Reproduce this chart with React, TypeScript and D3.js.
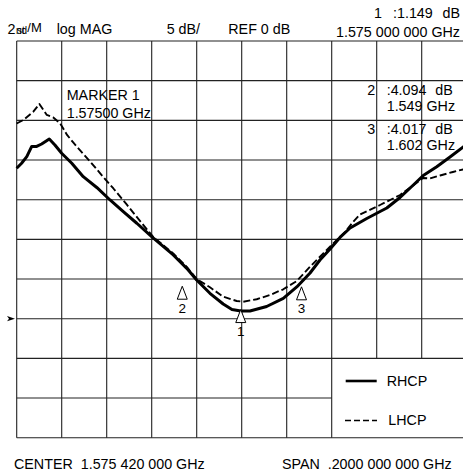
import React from "react";
import * as d3 from "d3";

// Analyzer settings
const centerGHz = 1.57542;
const spanGHz = 0.2;
const refDb = 0;
const dbPerDiv = 5;
const refDivFromTop = 7;
const divisions = 10;

// RHCP trace (solid)
const rhcpFreq = [
  1.4754, 1.4776, 1.4799, 1.4821, 1.4843, 1.4865, 1.4899, 1.4924, 1.4954, 1.4999,
  1.505, 1.511, 1.5169, 1.5228, 1.5288, 1.5354, 1.545, 1.551, 1.5554, 1.5613,
  1.5672, 1.5711, 1.575, 1.5791, 1.5865, 1.5939, 1.5999, 1.6058, 1.6102, 1.6147,
  1.6191, 1.6236, 1.631, 1.6399, 1.6458, 1.6517, 1.6561, 1.6621, 1.668, 1.6739, 1.6754,
];
const rhcpDb = [
  18.96, 19.59, 20.42, 21.71, 21.71, 22.02, 22.65, 21.9, 20.85, 19.59,
  17.9, 16.54, 14.96, 13.49, 12.03, 10.34, 8.03, 6.35, 4.88, 3.2,
  1.85, 1.16, 0.97, 0.97, 1.54, 2.57, 4.0, 5.76, 7.4, 8.79,
  10.24, 11.43, 12.63, 13.95, 15.28, 16.85, 18.05, 19.16, 20.38, 21.64, 21.96,
];

// LHCP trace (dashed)
const lhcpFreq = [
  1.4754, 1.4784, 1.4828, 1.4855, 1.4888, 1.4917, 1.4947, 1.4978, 1.5021, 1.508,
  1.5139, 1.5184, 1.5243, 1.5302, 1.5361, 1.545, 1.551, 1.5554, 1.5613, 1.5672,
  1.5732, 1.5761, 1.5821, 1.588, 1.5939, 1.5999, 1.6058, 1.6117, 1.6177, 1.6214,
  1.6249, 1.628, 1.6369, 1.6458, 1.6516, 1.656, 1.6591, 1.6636, 1.6693, 1.6754,
];
const lhcpDb = [
  24.6, 25.05, 26.09, 27.06, 25.68, 25.36, 24.63, 23.16, 21.68, 19.82,
  17.86, 16.41, 14.4, 12.32, 10.3, 8.22, 6.52, 5.0, 3.96, 2.77,
  2.23, 2.14, 2.45, 2.99, 3.71, 4.75, 6.55, 8.24, 9.92, 10.93,
  12.19, 13.13, 14.33, 15.59, 16.79, 17.74, 17.67, 18.05, 18.49, 18.93,
];

// Markers
const markerIds = ["1", "2", "3"];
const markerFreq = [1.575, 1.549, 1.602];
const markerDb = [1.149, 4.094, 4.017];

const seriesNames = ["RHCP", "LHCP"];

const FONT = "'Liberation Sans', Arial, Helvetica, sans-serif";

// "1.575420000" -> "1.575 420 000"
const grouped = (v: number, digits: number, lead = 3) => {
  const s = v.toFixed(digits);
  const [ip, fp] = s.split(".");
  const head = fp.slice(0, lead);
  const rest = fp.slice(lead).match(/.{1,3}/g) || [];
  return (ip === "0" ? "" : ip) + "." + [head, ...rest].join(" ");
};

export default function App() {
  const left = 16.7;
  const right = 466.7;
  const top = 41;
  const bottom = 437.7;

  const fStart = centerGHz - spanGHz / 2;
  const fStop = centerGHz + spanGHz / 2;
  const topDb = refDb + refDivFromTop * dbPerDiv;
  const bottomDb = topDb - divisions * dbPerDiv;

  const x = d3.scaleLinear().domain([fStart, fStop]).range([left, right]);
  const y = d3.scaleLinear().domain([bottomDb, topDb]).range([bottom, top]);

  const xGrid = d3.range(divisions + 1).map((i) => fStart + (i * spanGHz) / divisions);
  const yGrid = d3.range(divisions + 1).map((i) => bottomDb + i * dbPerDiv);

  // legend box occupies the lower-right 3 x 2 cells
  const legX = x(xGrid[7]);
  const legY = y(yGrid[2]);

  const line = d3
    .line<[number, number]>()
    .x((d) => x(d[0]))
    .y((d) => y(d[1]));

  const rhcp = rhcpFreq.map((f, i) => [f, rhcpDb[i]] as [number, number]);
  const lhcp = lhcpFreq.map((f, i) => [f, lhcpDb[i]] as [number, number]);

  const gridColor = "#222";
  const fs = 14.3;

  return (
    <svg
      width={463}
      height={475}
      style={{ position: "absolute", left: 0, top: 0, display: "block", background: "#fff" }}
      fontFamily={FONT}
    >
      <rect x={0} y={0} width={463} height={475} fill="#fff" />

      {/* graticule */}
      {xGrid.map((f, i) => (
        <line
          key={"v" + i}
          x1={x(f)}
          x2={x(f)}
          y1={top}
          y2={i > 7 ? legY : bottom}
          stroke={gridColor}
          strokeWidth={1.1}
        />
      ))}
      {yGrid.map((v, i) => (
        <line
          key={"h" + i}
          x1={left}
          x2={i === 1 ? legX : right}
          y1={y(v)}
          y2={y(v)}
          stroke={gridColor}
          strokeWidth={1.1}
        />
      ))}

      {/* reference level pointer */}
      <path
        d={`M7,${y(refDb) - 2.6} L15,${y(refDb)} L7,${y(refDb) + 2.6} L9,${y(refDb)} Z`}
        fill="#000"
      />

      {/* traces */}
      <path
        d={line(lhcp) || ""}
        fill="none"
        stroke="#000"
        strokeWidth={1.9}
        strokeDasharray="7,3"
        strokeLinejoin="round"
      />
      <path d={line(rhcp) || ""} fill="none" stroke="#000" strokeWidth={3} strokeLinejoin="round" />

      {/* markers */}
      {markerIds.map((id, i) => {
        const mx = x(markerFreq[i]);
        const my = y(markerDb[i]);
        return (
          <g key={"m" + id}>
            <path
              d={`M${mx},${my} L${mx - 5},${my + 13} L${mx + 5},${my + 13} Z`}
              fill="#fff"
              stroke="#000"
              strokeWidth={1}
            />
            <text x={mx} y={my + 26.5} fontSize={13.5} textAnchor="middle" fill="#000">
              {id}
            </text>
          </g>
        );
      })}

      {/* header */}
      <g fill="#000" fontSize={fs}>
        <text x={7.5} y={34.3}>
          2
          <tspan fontSize={10} dx={0.5}>nd</tspan>
          <tspan fontSize={10} dx={-10}>st</tspan>
          <tspan fontSize={13} dx={2.5} dy={-2.8}>/M</tspan>
        </text>
        <text x={56.7} y={34.3}>log MAG</text>
        <text x={166.7} y={34.3}>{`${dbPerDiv} dB/`}</text>
        <text x={228.3} y={34.3}>{`REF ${refDb} dB`}</text>
        <text x={374} y={18.3}>{markerIds[0]}</text>
        <text x={393} y={18.3}>{":" + markerDb[0].toFixed(3)}</text>
        <text x={460} y={18.3} textAnchor="end">dB</text>
        <text x={460} y={36.7} textAnchor="end">{grouped(markerFreq[0], 9) + " GHz"}</text>
      </g>

      {/* marker 1 annotation */}
      <g fill="#000" fontSize={fs}>
        <text x={66.7} y={100}>MARKER 1</text>
        <text x={66.7} y={117.5}>{markerFreq[0].toFixed(5) + " GHz"}</text>
      </g>

      {/* marker 2 / 3 readouts */}
      {[1, 2].map((i, k) => {
        const by = 95 + k * 39.2;
        return (
          <g key={"r" + i} fill="#000" fontSize={fs}>
            <text x={367.3} y={by}>{markerIds[i]}</text>
            <text x={386.7} y={by}>{":" + markerDb[i].toFixed(3)}</text>
            <text x={452.7} y={by} textAnchor="end">dB</text>
            <text x={386.7} y={by + 15.5}>{markerFreq[i].toFixed(3) + " GHz"}</text>
          </g>
        );
      })}

      {/* legend */}
      <g>
        <line x1={345.7} x2={376.7} y1={381} y2={381} stroke="#000" strokeWidth={2.6} />
        <text x={386.7} y={385.5} fontSize={fs} fill="#000">{seriesNames[0]}</text>
        <line x1={345} x2={377} y1={420.5} y2={420.5} stroke="#000" strokeWidth={1.5} strokeDasharray="6,3" />
        <text x={388.3} y={424.5} fontSize={fs} fill="#000">{seriesNames[1]}</text>
      </g>

      {/* footer */}
      <g fill="#000" fontSize={fs}>
        <text x={14} y={469.3} xmlSpace="preserve">{"CENTER  " + grouped(centerGHz, 9) + " GHz"}</text>
        <text x={451.7} y={469.3} textAnchor="end" xmlSpace="preserve">
          {"SPAN  " + grouped(spanGHz, 10, 4) + " GHz"}
        </text>
      </g>
    </svg>
  );
}
